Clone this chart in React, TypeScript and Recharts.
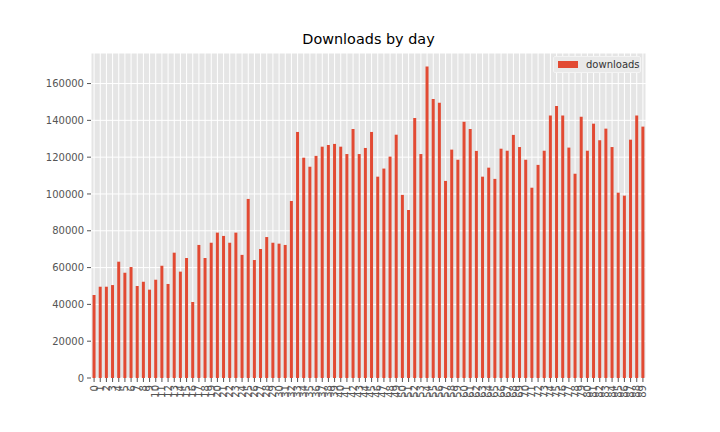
import React from "react";
import { BarChart, Bar, XAxis, YAxis, CartesianGrid, Legend } from "recharts";

const days: string[] = [
  "0","1","2","3","4","5","6","7","8","9",
  "10","11","12","13","14","15","16","17","18","19",
  "20","21","22","23","24","25","26","27","28","29",
  "30","31","32","33","34","35","36","37","38","39",
  "40","41","42","43","44","45","46","47","48","49",
  "50","51","52","53","54","55","56","57","58","59",
  "60","61","62","63","64","65","66","67","68","69",
  "70","71","72","73","74","75","76","77","78","79",
  "80","81","82","83","84","85","86","87","88","89",
];

const downloads: number[] = [
  45100, 49600, 49600, 50500, 63200, 57200, 60300, 50000, 52300, 48000,
  53400, 61000, 51100, 68100, 57800, 65200, 41300, 72300, 65200, 73500,
  79000, 77200, 73500, 79000, 66900, 97300, 64100, 70100, 76600, 73500,
  73000, 72300, 96200, 133700, 119700, 114800, 120700, 125700, 126600, 127200,
  125700, 121700, 135300, 121700, 125000, 133700, 109400, 113800, 120300, 132200,
  99500, 91300, 141300, 121700, 169200, 151600, 149600, 107100, 124100, 118600,
  139300, 135300, 123400, 109400, 114300, 108200, 124600, 123500, 132100, 125500,
  118600, 103400, 115800, 123500, 142600, 147800, 142600, 125200, 111000, 142000,
  123500, 138200, 129200, 135500, 125500, 100700, 99100, 129500, 142600, 136600,
];

const yTicks: number[] = [0, 20000, 40000, 60000, 80000, 100000, 120000, 140000, 160000];

const data = days.map((d, i) => ({ day: d, downloads: downloads[i] }));

const FONT = "'DejaVu Sans', sans-serif";
const TICK_COLOR = "#555555";
const BAR_COLOR = "#E24A33";

const XTick = (props: any) => {
  const { x, y, payload } = props;
  return (
    <text
      x={x}
      y={y}
      transform={`rotate(-90, ${x}, ${y})`}
      textAnchor="end"
      dominantBaseline="central"
      fontSize={10}
      fill={TICK_COLOR}
      fontFamily={FONT}
    >
      {payload.value}
    </text>
  );
};

const LegendContent = () => (
  <div
    style={{
      width: 86,
      height: 15,
      background: "#e9e9e9",
      border: "1px solid #f4f4f4",
      borderRadius: 2,
      display: "flex",
      alignItems: "center",
      fontFamily: FONT,
      fontSize: 10,
      color: "#333",
      boxSizing: "content-box",
    }}
  >
    <span
      style={{
        display: "inline-block",
        width: 20,
        height: 7,
        background: BAR_COLOR,
        marginLeft: 4,
        marginRight: 8,
      }}
    />
    <span>downloads</span>
  </div>
);

export default function App() {
  return (
    <div
      style={{
        position: "absolute",
        left: 0,
        top: 0,
        width: 720,
        height: 432,
        background: "#ffffff",
        fontFamily: FONT,
      }}
    >
      <div
        style={{
          position: "absolute",
          left: 91,
          width: 555,
          top: 31,
          textAlign: "center",
          fontSize: 14.4,
          lineHeight: "17px",
          color: "#000",
          fontFamily: FONT,
        }}
      >
        Downloads by day
      </div>
      <BarChart
        width={720}
        height={432}
        data={data}
        margin={{ top: 53, right: 74, left: 0, bottom: 0 }}
        barCategoryGap="25%"
      >
        <CartesianGrid fill="#E5E5E5" stroke="#ffffff" strokeWidth={1} />
        <XAxis
          dataKey="day"
          interval={0}
          height={54}
          tickSize={4}
          tickMargin={3}
          axisLine={false}
          tickLine={{ stroke: TICK_COLOR }}
          tick={<XTick />}
        />
        <YAxis
          width={91}
          domain={[0, 176600]}
          ticks={yTicks}
          interval={0}
          tickSize={4}
          tickMargin={3}
          axisLine={false}
          tickLine={{ stroke: TICK_COLOR }}
          tick={{ fontSize: 10, fill: TICK_COLOR, fontFamily: FONT }}
        />
        <Legend
          layout="horizontal"
          verticalAlign="middle"
          align="center"
          content={<LegendContent />}
          wrapperStyle={{ left: 553, top: 56, width: 88, height: 17 }}
        />
        <Bar dataKey="downloads" fill={BAR_COLOR} isAnimationActive={false} />
      </BarChart>
    </div>
  );
}
